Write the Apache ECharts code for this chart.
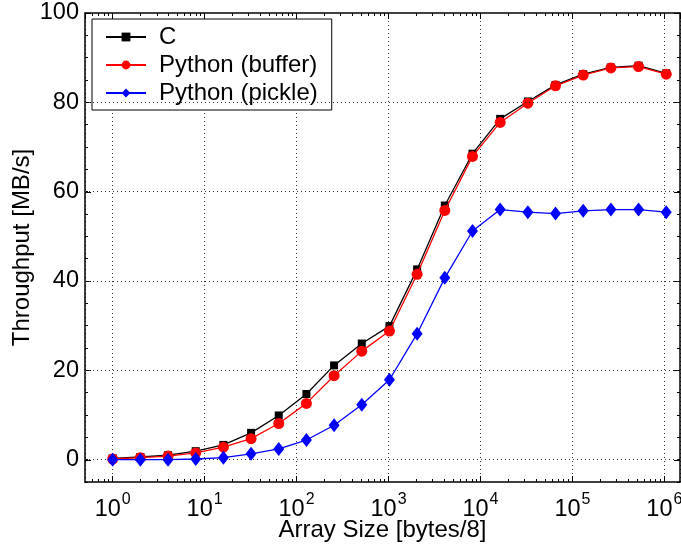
<!DOCTYPE html>
<html><head><meta charset="utf-8">
<script src="https://cdn.jsdelivr.net/npm/echarts@6/dist/echarts.min.js"></script>
<style>html,body{margin:0;padding:0;background:#fff}#c{width:681px;height:548px}</style>
</head><body><div id="c"></div>
<script>
const arraySizes = [1,2,4,8,16,32,64,128,256,512,1024,2048,4096,8192,16384,32768,65536,131072,262144,524288,1048576];
const cThroughput = [0.3,0.6,1.0,1.9,3.3,6.0,9.9,14.7,21.1,26.0,29.9,42.6,56.9,68.5,76.3,80.2,83.9,86.3,87.8,88.2,86.5];
const pyBuffer   = [0.15,0.45,0.8,1.5,2.8,4.7,8.1,12.6,18.8,24.3,28.8,41.5,55.8,67.9,75.5,79.8,83.7,86.1,87.7,88.0,86.3];
const pyPickle   = [0,0,0,0.15,0.45,1.3,2.4,4.4,7.7,12.3,17.9,28.2,40.7,51.2,56.0,55.4,55.1,55.7,56.0,56.0,55.4];
const seriesNames = ['C','Python (buffer)','Python (pickle)'];
const yGridValues = [0,20,40,60,80];
const yMajorTicks = [0,20,40,60,80,100];
const minorDecades = [0.1,1,10,100,1000,10000,100000];
const minorMultipliers = [2,3,4,5,6,7,8,9];
const X_MIN = 0.5, X_MAX = 1.48e6, Y_MIN = -5, Y_MAX = 100;

const FONT = 'Liberation Sans, Arial, Helvetica, sans-serif';
const pair = (ys) => arraySizes.map((x, i) => [x, ys[i]]);

const chart = echarts.init(document.getElementById('c'), null, {renderer: 'canvas'});

const xCommon = {
  type: 'log', logBase: 10, min: X_MIN, max: X_MAX,
  axisLine: {show: true, onZero: false, lineStyle: {color: '#000', width: 1.5}},
  axisTick: {show: true, inside: true, length: 6, lineStyle: {color: '#000', width: 1}},
  minorTick: {show: false},
  splitLine: {show: false}
};

const yCommon = {
  type: 'value', min: Y_MIN, max: Y_MAX, interval: 5,
  axisLine: {show: true, onZero: false, lineStyle: {color: '#000', width: 1.5}},
  axisTick: {show: true, inside: true, length: 3, lineStyle: {color: '#000', width: 1}},
  splitLine: {show: false}
};

function decorRender(params, api) {
  const cs = params.coordSys;
  const children = [];
  const st = {stroke: '#000', lineWidth: 1};
  const bottom = cs.y + cs.height, top = cs.y, left = cs.x, right = cs.x + cs.width;
  minorDecades.forEach(d => {
    minorMultipliers.forEach(m => {
      const v = m * d;
      if (v <= X_MIN || v >= X_MAX) return;
      const px = Math.round(api.coord([v, 0])[0]) + 0.5;
      children.push({type: 'line', shape: {x1: px, y1: bottom, x2: px, y2: bottom - 3}, style: st});
      children.push({type: 'line', shape: {x1: px, y1: top, x2: px, y2: top + 3}, style: st});
    });
  });
  yMajorTicks.forEach(v => {
    const py = Math.round(api.coord([1, v])[1]) + 0.5;
    children.push({type: 'line', shape: {x1: left, y1: py, x2: left + 6, y2: py}, style: st});
    children.push({type: 'line', shape: {x1: right, y1: py, x2: right - 6, y2: py}, style: st});
  });
  return {type: 'group', children: children};
}

const option = {
  animation: false,
  backgroundColor: '#fff',
  textStyle: {fontFamily: FONT},
  grid: {left: 85, right: 1, top: 13, bottom: 66, containLabel: false, outerBoundsMode: 'none'},
  legend: {
    data: seriesNames,
    orient: 'vertical',
    left: 92, top: 19,
    backgroundColor: '#fff',
    borderColor: '#000', borderWidth: 1, borderRadius: 0,
    padding: [6, 14, 5, 13],
    itemWidth: 40, itemHeight: 11, itemGap: 4,
    textStyle: {fontSize: 24, color: '#000', fontFamily: FONT, padding: [0, 0, 0, 8]},
    selectedMode: false
  },
  xAxis: [
    Object.assign({}, xCommon, {
      position: 'bottom',
      name: 'Array Size [bytes/8]', nameLocation: 'middle', nameGap: 36, nameMoveOverlap: false,
      nameTextStyle: {fontSize: 24, color: '#000', fontFamily: FONT},
      splitLine: {show: true, lineStyle: {color: '#333', width: 1, type: [1, 3]}},
      axisLabel: {
        show: true, margin: 10, showMinLabel: false, showMaxLabel: false,
        formatter: function (v) {
          const e = Math.round(Math.log10(v));
          return '{b|10}{s|' + e + '}';
        },
        rich: {
          b: {fontSize: 23.5, color: '#000', fontFamily: FONT, lineHeight: 30, verticalAlign: 'bottom'},
          s: {fontSize: 16, color: '#000', fontFamily: FONT, lineHeight: 30, verticalAlign: 'top', padding: [0, 0, 0, 1]}
        }
      }
    }),
    Object.assign({}, xCommon, {position: 'top', axisLabel: {show: false}})
  ],
  yAxis: [
    Object.assign({}, yCommon, {
      position: 'left',
      name: 'Throughput [MB/s]', nameLocation: 'middle', nameGap: 51, nameMoveOverlap: false,
      nameTextStyle: {fontSize: 24, color: '#000', fontFamily: FONT},
      axisLabel: {
        show: true, margin: 6, fontSize: 23.5, color: '#000', fontFamily: FONT,
        formatter: v => (v >= 0 && v % 20 === 0) ? String(v) : ''
      }
    }),
    Object.assign({}, yCommon, {position: 'right', axisLabel: {show: false}})
  ],
  series: [
    {
      name: 'grid', type: 'line', data: [], z: 1, silent: true,
      markLine: {
        silent: true, symbol: 'none', label: {show: false},
        lineStyle: {color: '#333', width: 1, type: [1, 3]},
        data: yGridValues.map(v => ({yAxis: v}))
      }
    },
    {
      name: 'decor', type: 'custom', data: [[1, 0]], z: 2, silent: true,
      renderItem: decorRender, clip: false
    },
    {
      name: seriesNames[0], type: 'line', data: pair(cThroughput), z: 3,
      symbol: 'rect', symbolSize: 8,
      lineStyle: {color: '#000', width: 1.3}, itemStyle: {color: '#000'}
    },
    {
      name: seriesNames[1], type: 'line', data: pair(pyBuffer), z: 4,
      symbol: 'circle', symbolSize: 11,
      lineStyle: {color: '#ff0000', width: 1.3}, itemStyle: {color: '#ff0000'}
    },
    {
      name: seriesNames[2], type: 'line', data: pair(pyPickle), z: 5,
      symbol: 'diamond', symbolSize: [11, 14],
      lineStyle: {color: '#0000ff', width: 1.3}, itemStyle: {color: '#0000ff'}
    }
  ]
};
chart.setOption(option);
</script>
</body></html>
